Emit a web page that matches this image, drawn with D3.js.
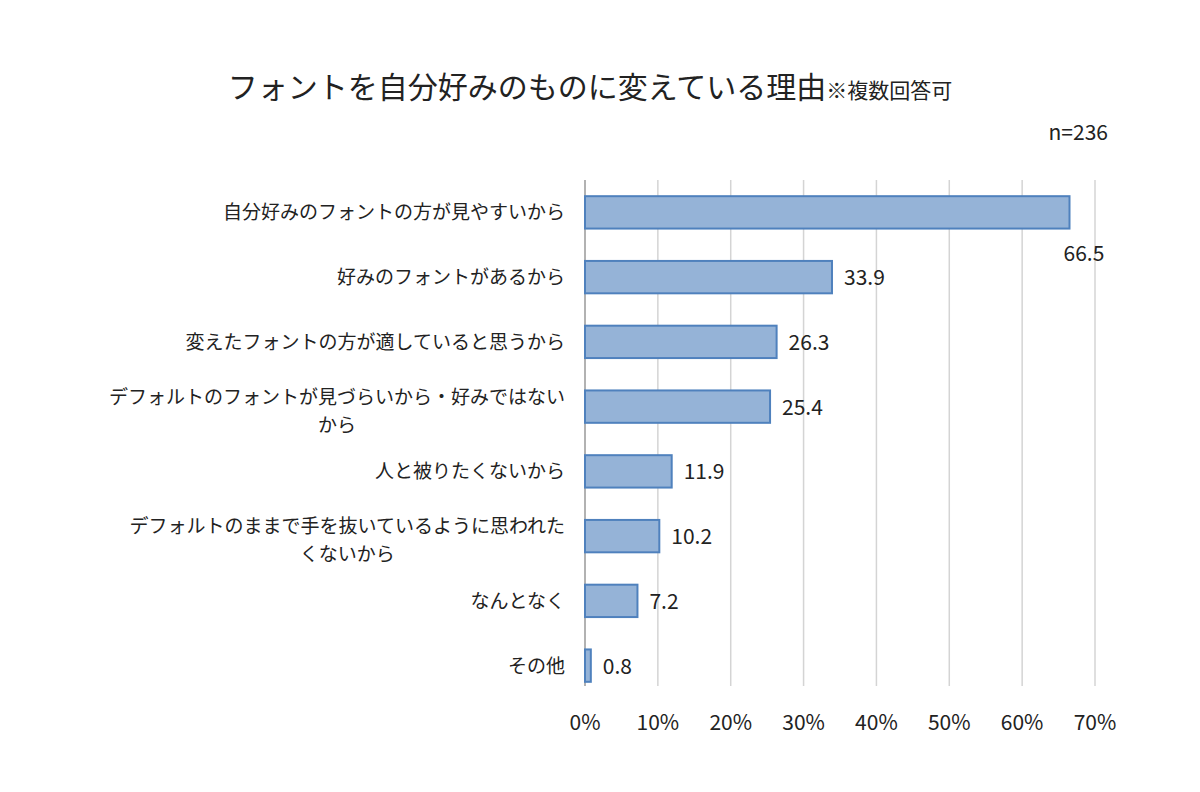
<!DOCTYPE html>
<html><head><meta charset="utf-8">
<script src="https://cdn.jsdelivr.net/npm/d3@7"></script>
<style>body{margin:0;background:#fff}text{font-family:"Noto Sans CJK JP",sans-serif;fill:#222}</style>
</head><body>
<svg id="chart" width="1200" height="792"></svg>
<script>
const categories = [
  ["自分好みのフォントの方が見やすいから"],
  ["好みのフォントがあるから"],
  ["変えたフォントの方が適していると思うから"],
  ["デフォルトのフォントが見づらいから・好みではない", "から"],
  ["人と被りたくないから"],
  ["デフォルトのままで手を抜いているように思われた", "くないから"],
  ["なんとなく"],
  ["その他"]
];
const values = [66.5, 33.9, 26.3, 25.4, 11.9, 10.2, 7.2, 0.8];
const ticks = [0, 10, 20, 30, 40, 50, 60, 70];

const svg = d3.select("#chart");
const x = d3.scaleLinear().domain([0, 70]).range([585, 1095]);
const y = d3.scaleBand().domain(d3.range(values.length)).range([180, 698]).paddingInner(0.5).paddingOuter(0.25);

// grid
svg.append("g").selectAll("line").data(ticks).join("line")
   .attr("x1", d => x(d)).attr("x2", d => x(d))
   .attr("y1", 180).attr("y2", 686)
   .attr("stroke", d => d === 0 ? "#999" : "#d4d4d4").attr("stroke-width", 1.5);

// tick labels
svg.append("g").selectAll("text").data(ticks).join("text")
   .attr("x", d => x(d)).attr("y", 730)
   .attr("text-anchor", "middle").attr("font-size", 21)
   .text(d => d + "%");

// bars
svg.append("g").selectAll("rect").data(values).join("rect")
   .attr("x", x(0)).attr("y", (d, i) => y(i))
   .attr("width", d => x(d) - x(0)).attr("height", y.bandwidth())
   .attr("fill", "#95b3d7").attr("stroke", "#4f81bd").attr("stroke-width", 2);

// value labels
svg.append("g").selectAll("text").data(values).join("text")
   .attr("x", (d, i) => i === 0 ? x(d) - 6 : x(d) + 12)
   .attr("y", (d, i) => i === 0 ? y(i) + y.bandwidth() + 32 : y(i) + y.bandwidth() / 2 + 8)
   .attr("font-size", 21)
   .text(d => d.toFixed(1));

// category labels
categories.forEach((lines, i) => {
  const cy = y(i) + y.bandwidth() / 2;
  const g = svg.append("g");
  const n = lines.length;
  const t = g.selectAll("text").data(lines).join("text")
     .attr("font-size", 19)
     .attr("y", (d, j) => cy + 7 + (j - (n - 1) / 2) * 28 + (n > 1 ? 4 : 0))
     .text(d => d);
  if (n === 1) {
    t.attr("x", 565).attr("text-anchor", "end");
  } else {
    const w = t.nodes()[0].getComputedTextLength();
    t.attr("x", 565 - w / 2).attr("text-anchor", "middle");
  }
});

// title
const title = svg.append("text").attr("x", 590).attr("y", 98).attr("text-anchor", "middle");
title.append("tspan").attr("font-size", 30).text("フォントを自分好みのものに変えている理由");
title.append("tspan").attr("font-size", 21).text("※複数回答可");

svg.append("text").attr("x", 1108).attr("y", 140).attr("text-anchor", "end")
   .attr("font-size", 21).text("n=236");
</script>
</body></html>
